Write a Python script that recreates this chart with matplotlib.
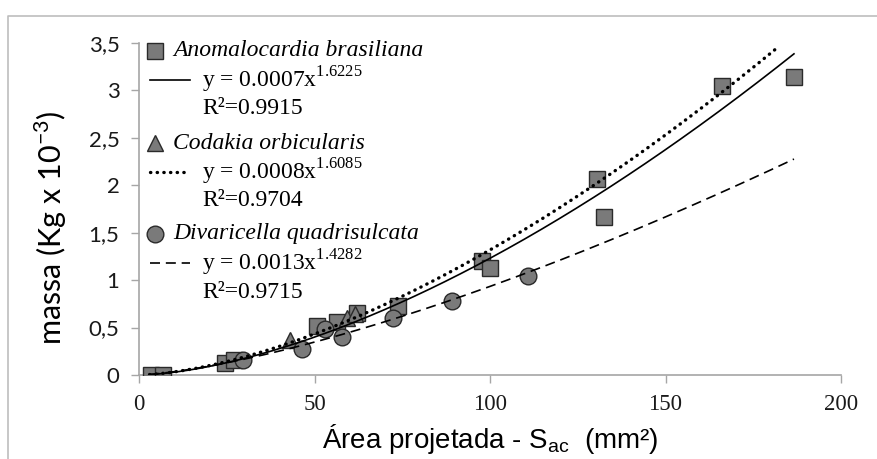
import numpy as np
import matplotlib
matplotlib.use("Agg")
import matplotlib.pyplot as plt
from matplotlib import font_manager
from matplotlib.lines import Line2D

# mass vs projected area, three bivalve species with power-law fits
ab_x = [3.5, 6.8, 24.5, 27.0, 50.7, 56.4, 62.1, 73.8, 97.7, 100.0, 130.5, 132.5, 166.1, 186.6]
ab_y = [0.0, 0.0, 0.13, 0.16, 0.52, 0.56, 0.65, 0.73, 1.20, 1.13, 2.07, 1.67, 3.05, 3.14]

co_x = [43.0, 59.3, 61.5]
co_y = [0.37, 0.60, 0.64]

dq_x = [29.6, 46.4, 53.0, 57.8, 72.4, 89.2, 110.8]
dq_y = [0.16, 0.27, 0.48, 0.40, 0.60, 0.78, 1.04]

species = ["Anomalocardia brasiliana", "Codakia orbicularis", "Divaricella quadrisulcata"]
coef_a = [0.0007, 0.0008, 0.0013]
coef_b = [1.6225, 1.6085, 1.4282]
r2 = [0.9915, 0.9704, 0.9715]
fit_range = [(3.0, 186.6), (3.0, 181.7), (3.0, 186.6)]

x_ticks = [0, 50, 100, 150, 200]
y_ticks = [0, 0.5, 1, 1.5, 2, 2.5, 3, 3.5]
y_ticklabels = ["0", "0,5", "1", "1,5", "2", "2,5", "3", "3,5"]

names = {f.name for f in font_manager.fontManager.ttflist}
narrow = "Liberation Sans Narrow" if "Liberation Sans Narrow" in names else "Liberation Sans"

plt.rcParams["mathtext.fontset"] = "custom"
plt.rcParams["mathtext.rm"] = "Liberation Serif"
plt.rcParams["mathtext.sf"] = "Lato"
plt.rcParams["mathtext.tt"] = narrow

W, H = 877, 459
fig = plt.figure(figsize=(W / 100, H / 100), dpi=100)
ax = fig.add_axes([139 / W, 1 - 375 / H, (841 - 139) / W, (375 - 43) / H])


def px(x, y):
    return x / W, 1 - y / H


# outer chart border
fig.add_artist(Line2D([8 / W, 8 / W, 1.0], [0.0, 1 - 16 / H, 1 - 16 / H],
                      transform=fig.transFigure, color="#bdbdbd", lw=1.2))

marker_style = dict(color="#7a7a7a", markeredgecolor="#2a2a2a", markeredgewidth=1.0,
                    linestyle="none")
ax.plot(ab_x, ab_y, marker="s", markersize=11.5, zorder=3, **marker_style)
ax.plot(co_x, co_y, marker="^", markersize=11, zorder=4, **marker_style)
ax.plot(dq_x, dq_y, marker="o", markersize=12, zorder=5, **marker_style)

line_styles = [
    dict(linestyle="-", lw=1.2),
    dict(linestyle=(0, (0.1, 1.9)), lw=2.4, dash_capstyle="round"),
    dict(linestyle=(0, (6, 3.5)), lw=1.2),
]
for a, b, (x0, x1), st in zip(coef_a, coef_b, fit_range, line_styles):
    xs = np.linspace(x0, x1, 300)
    ax.plot(xs, a * xs ** b, color="black", zorder=6, **st)

ax.set_xlim(0, 200)
ax.set_ylim(0, 3.5)
ax.set_xticks(x_ticks)
ax.set_xticklabels([str(t) for t in x_ticks], fontfamily="Liberation Serif", fontsize=16.5)
ax.set_yticks(y_ticks)
ax.set_yticklabels(y_ticklabels, fontfamily="Lato", fontsize=16)
ax.tick_params(axis="both", direction="out", length=6, width=1, color="#a6a6a6",
               labelcolor="#1a1a1a")
ax.tick_params(axis="x", pad=8)
ax.tick_params(axis="y", pad=8)
for side in ["top", "right"]:
    ax.spines[side].set_visible(False)
for side in ["left", "bottom"]:
    ax.spines[side].set_color("#a6a6a6")
    ax.spines[side].set_linewidth(1.2)

fig.text(*px(51, 228), r"massa (Kg x 10$^{\mathsf{-3}}$)", rotation=90, ha="center",
         va="center", fontfamily="Lato", fontsize=22)
fig.text(*px(490, 439), r"Área projetada - S$_{\mathtt{ac}}$  (mm²)", ha="center",
         va="center", fontfamily=narrow, fontsize=20)

# hand-built legend block
markers = ["s", "^", "o"]
msizes = [11.5, 11, 12]
row_top = [51, 143, 234]
for i in range(3):
    y0 = row_top[i]
    fig.add_artist(Line2D([155 / W], [1 - y0 / H], transform=fig.transFigure,
                          marker=markers[i], markersize=msizes[i], **marker_style))
    fig.text(*px(173, y0), species[i], fontfamily="Liberation Serif", style="italic",
             fontsize=17, va="center", ha="left")
    fig.add_artist(Line2D([150 / W, 190 / W], [1 - (y0 + 29) / H] * 2,
                          transform=fig.transFigure, color="black", **line_styles[i]))
    fig.text(*px(202, y0 + 29), f"y = {coef_a[i]:.4f}x$^{{{coef_b[i]:.4f}}}$",
             fontfamily="Liberation Serif", fontsize=17, va="center", ha="left")
    fig.text(*px(202, y0 + 58), f"R²={r2[i]:.4f}", fontfamily="Liberation Serif",
             fontsize=17, va="center", ha="left")

fig.savefig("out.png", dpi=100)
